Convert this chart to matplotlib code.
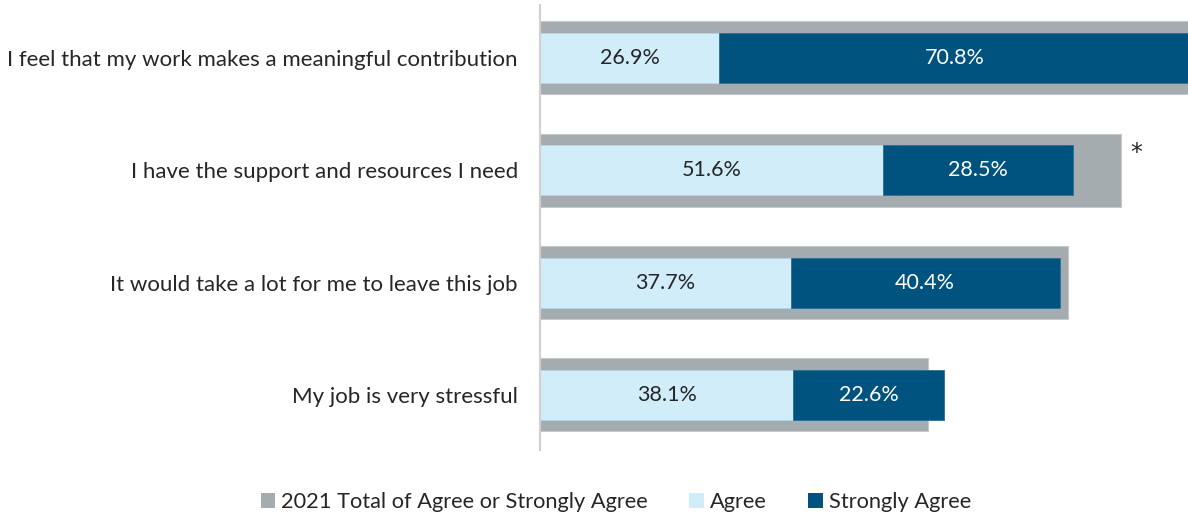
import numpy as np
import matplotlib.pyplot as plt
from matplotlib.patches import Patch

plt.rcParams['font.family'] = ['Lato', 'DejaVu Sans']

statements = [
    "I feel that my work makes a meaningful contribution",
    "I have the support and resources I need",
    "It would take a lot for me to leave this job",
    "My job is very stressful",
]
agree = [26.9, 51.6, 37.7, 38.1]
strongly_agree = [70.8, 28.5, 40.4, 22.6]
total_2021 = [98.5, 87.4, 79.4, 58.3]
flags = ["", "*", "", ""]

GRAY = "#A5ACAF"
LIGHT = "#D1EDF9"
DARK = "#00527F"

fig = plt.figure(figsize=(11.88, 5.19), dpi=100)
ax = fig.add_axes([540 / 1188, 69 / 519, 648 / 1188, 445 / 519])

y = np.arange(len(statements))
ax.barh(y, total_2021, height=0.65, color=GRAY, edgecolor="#C4C9CB", linewidth=0.8)
ax.barh(y, agree, height=0.445, color=LIGHT, edgecolor="#B5D6E6", linewidth=0.6)
ax.barh(y, strongly_agree, left=agree, height=0.445, color=DARK,
        edgecolor="#2F6F96", linewidth=0.6)

for i in range(len(statements)):
    ax.text(agree[i] / 2, y[i], f"{agree[i]:.1f}%", ha="center", va="center",
            fontsize=15.5, color="#262626")
    ax.text(agree[i] + strongly_agree[i] / 2, y[i], f"{strongly_agree[i]:.1f}%",
            ha="center", va="center", fontsize=15.5, color="white")
    if flags[i]:
        # significance marker next to the 2021 bar
        ax.text(total_2021[i] + 1.4, y[i] - 0.15, flags[i], ha="left", va="center",
                fontsize=17, color="#262626", family="DejaVu Sans")

ax.set_xlim(0, 97.4)
ax.set_ylim(3.49, -0.47)
ax.set_yticks(y)
ax.set_yticklabels(statements, fontsize=16, color="#262626")
ax.tick_params(axis="y", length=0, pad=16)
ax.set_xticks([])
for side in ["top", "right", "bottom"]:
    ax.spines[side].set_visible(False)
ax.spines["left"].set_color("#D0D0D0")
ax.spines["left"].set_linewidth(1.5)

handles = [
    Patch(facecolor=GRAY, label="2021 Total of Agree or Strongly Agree"),
    Patch(facecolor=LIGHT, label="Agree"),
    Patch(facecolor=DARK, label="Strongly Agree"),
]
fig.legend(handles=handles, loc="center", bbox_to_anchor=(616 / 1188, 1 - 502 / 519),
           ncol=3, frameon=False, fontsize=15.7, handlelength=0.65, handleheight=0.65,
           handletextpad=0.3, columnspacing=1.9, labelcolor="#262626")

fig.savefig("out.png", dpi=100)
